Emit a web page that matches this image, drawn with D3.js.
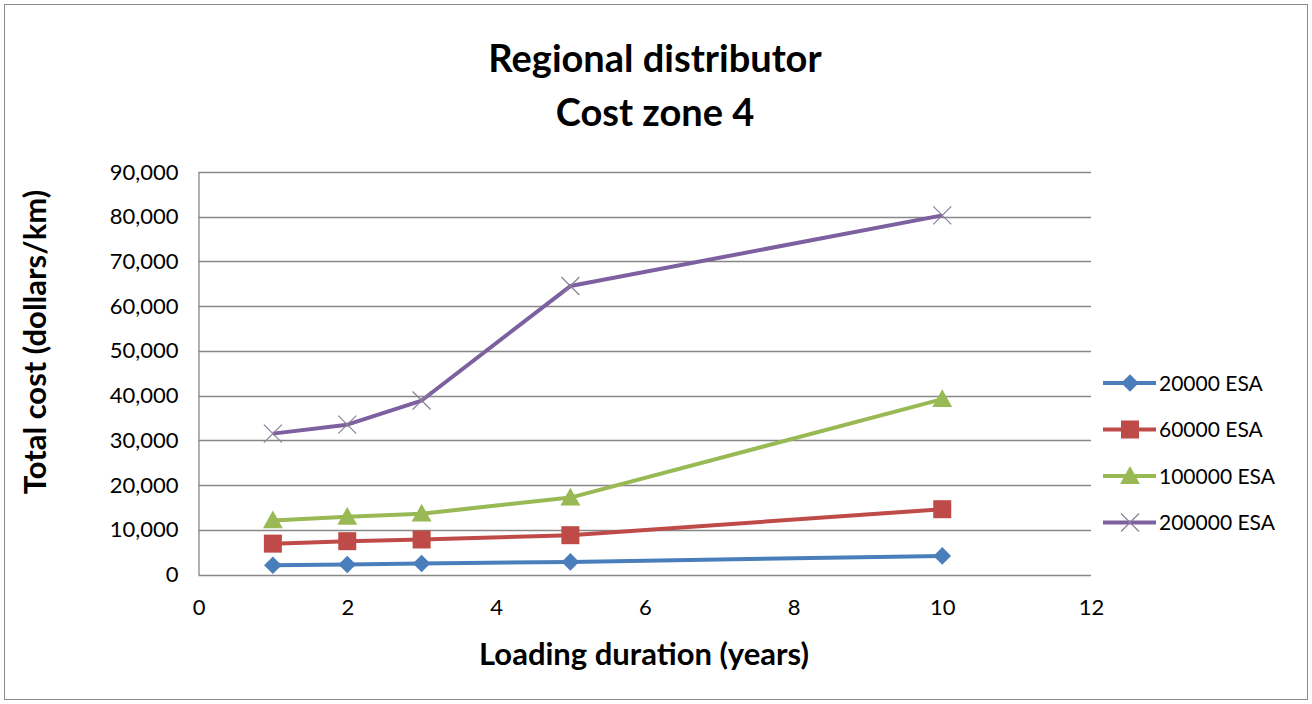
<!DOCTYPE html>
<html><head><meta charset="utf-8">
<script src="https://cdn.jsdelivr.net/npm/d3@7"></script>
<style>
body{margin:0;background:#fff;}
svg{display:block;}
text{font-family:Lato,"Open Sans",sans-serif;fill:#000;}
</style></head>
<body><svg id="c" width="1312" height="704"></svg>
<script>
const years = [1, 2, 3, 5, 10];
const seriesNames = ["20000 ESA", "60000 ESA", "100000 ESA", "200000 ESA"];
const esa20000 = [2080, 2240, 2460, 2820, 4160];
const esa60000 = [6900, 7450, 7830, 8790, 14600];
const esa100000 = [12100, 12900, 13600, 17200, 39200];
const esa200000 = [31500, 33500, 38900, 64500, 80300];
const yTicks = [0, 10000, 20000, 30000, 40000, 50000, 60000, 70000, 80000, 90000];
const xTicks = [0, 2, 4, 6, 8, 10, 12];
const colors = ["#4a7ebb", "#be4b48", "#98b954", "#7d60a0"];
const markers = ["diamond", "square", "triangle", "x"];
const titleLines = ["Regional distributor", "Cost zone 4"];
const xTitle = "Loading duration (years)";
const yTitle = "Total cost (dollars/km)";

const data = [esa20000, esa60000, esa100000, esa200000].map((vals, i) => ({
  name: seriesNames[i], color: colors[i], marker: markers[i],
  points: years.map((x, j) => ({x, y: vals[j]}))
}));

const svg = d3.select("#c");
svg.append("rect").attr("x", 4.5).attr("y", 4.5).attr("width", 1303).attr("height", 695)
  .attr("fill", "#fff").attr("stroke", "#8c8c8c").attr("stroke-width", 1);

const L = 198.5, R = 1091, T = 172, B = 574.5;
const x = d3.scaleLinear().domain([0, 12]).range([L, R]);
const y = d3.scaleLinear().domain([0, 90000]).range([B, T]);

// gridlines
svg.append("g").selectAll("line").data(yTicks).join("line")
  .attr("x1", L).attr("x2", R)
  .attr("y1", d => Math.round(y(d)) + 0.5).attr("y2", d => Math.round(y(d)) + 0.5)
  .attr("stroke", "#878787").attr("stroke-width", 1.3);

// axes
const yAxis = d3.axisLeft(y).tickValues(yTicks).tickSize(0).tickPadding(20)
  .tickFormat(d3.format(","));
const gy = svg.append("g").attr("transform", `translate(${L},0)`).call(yAxis);
gy.select(".domain").attr("stroke", "#878787").attr("stroke-width", 1.3);
gy.selectAll("text").attr("font-size", 22).attr("font-family", "Lato").attr("fill", "#000");

const xAxis = d3.axisBottom(x).tickValues(xTicks).tickSize(0).tickPadding(25);
const gx = svg.append("g").attr("transform", `translate(0,${B})`).call(xAxis);
gx.select(".domain").remove();
gx.selectAll("text").attr("font-size", 22).attr("font-family", "Lato").attr("fill", "#000");

// lines
const line = d3.line().x(d => x(d.x)).y(d => y(d.y));
svg.append("g").selectAll("path").data(data).join("path")
  .attr("d", d => line(d.points)).attr("fill", "none")
  .attr("stroke", d => d.color).attr("stroke-width", 4).attr("stroke-linejoin", "round");

function drawMarker(g, type, color, cx, cy, s) {
  if (type === "diamond") {
    const r = s * 0.55;
    g.append("path").attr("d", `M${cx},${cy - r}L${cx + r},${cy}L${cx},${cy + r}L${cx - r},${cy}Z`)
      .attr("fill", color);
  } else if (type === "square") {
    const r = s * 0.5;
    g.append("rect").attr("x", cx - r).attr("y", cy - r).attr("width", 2 * r).attr("height", 2 * r)
      .attr("fill", color);
  } else if (type === "triangle") {
    const r = s * 0.55;
    g.append("path").attr("d", `M${cx},${cy - r}L${cx + r},${cy + r * 0.8}L${cx - r},${cy + r * 0.8}Z`)
      .attr("fill", color);
  } else {
    const r = s * 0.5;
    g.append("path").attr("d", `M${cx - r},${cy - r}L${cx + r},${cy + r}M${cx + r},${cy - r}L${cx - r},${cy + r}`)
      .attr("stroke", "#8a7f99").attr("stroke-width", 1.2).attr("fill", "none");
  }
}
const sizes = {diamond: 16, square: 18, triangle: 18, x: 18};
const mg = svg.append("g");
data.forEach(s => s.points.forEach(p => drawMarker(mg, s.marker, s.color, x(p.x), y(p.y), sizes[s.marker])));

// legend
const lg = svg.append("g");
data.forEach((s, i) => {
  const ly = 383 + i * 46.5;
  lg.append("line").attr("x1", 1103).attr("x2", 1156).attr("y1", ly).attr("y2", ly)
    .attr("stroke", s.color).attr("stroke-width", 4);
  drawMarker(lg, s.marker, s.color, 1130, ly, sizes[s.marker]);
  lg.append("text").attr("x", 1159).attr("y", ly).attr("dy", "0.36em")
    .attr("font-size", 21).text(s.name);
});

// titles
svg.append("g").selectAll("text").data(titleLines).join("text")
  .attr("x", 655).attr("y", (d, i) => 72 + i * 54).attr("text-anchor", "middle")
  .attr("font-size", 38).attr("font-weight", "bold").text(d => d);

svg.append("text").attr("x", 644).attr("y", 665).attr("text-anchor", "middle")
  .attr("font-size", 31).attr("font-weight", "bold").text(xTitle);

svg.append("text").attr("transform", "translate(46,342) rotate(-90)").attr("text-anchor", "middle")
  .attr("font-size", 31).attr("font-weight", "bold").text(yTitle);
</script></body></html>
